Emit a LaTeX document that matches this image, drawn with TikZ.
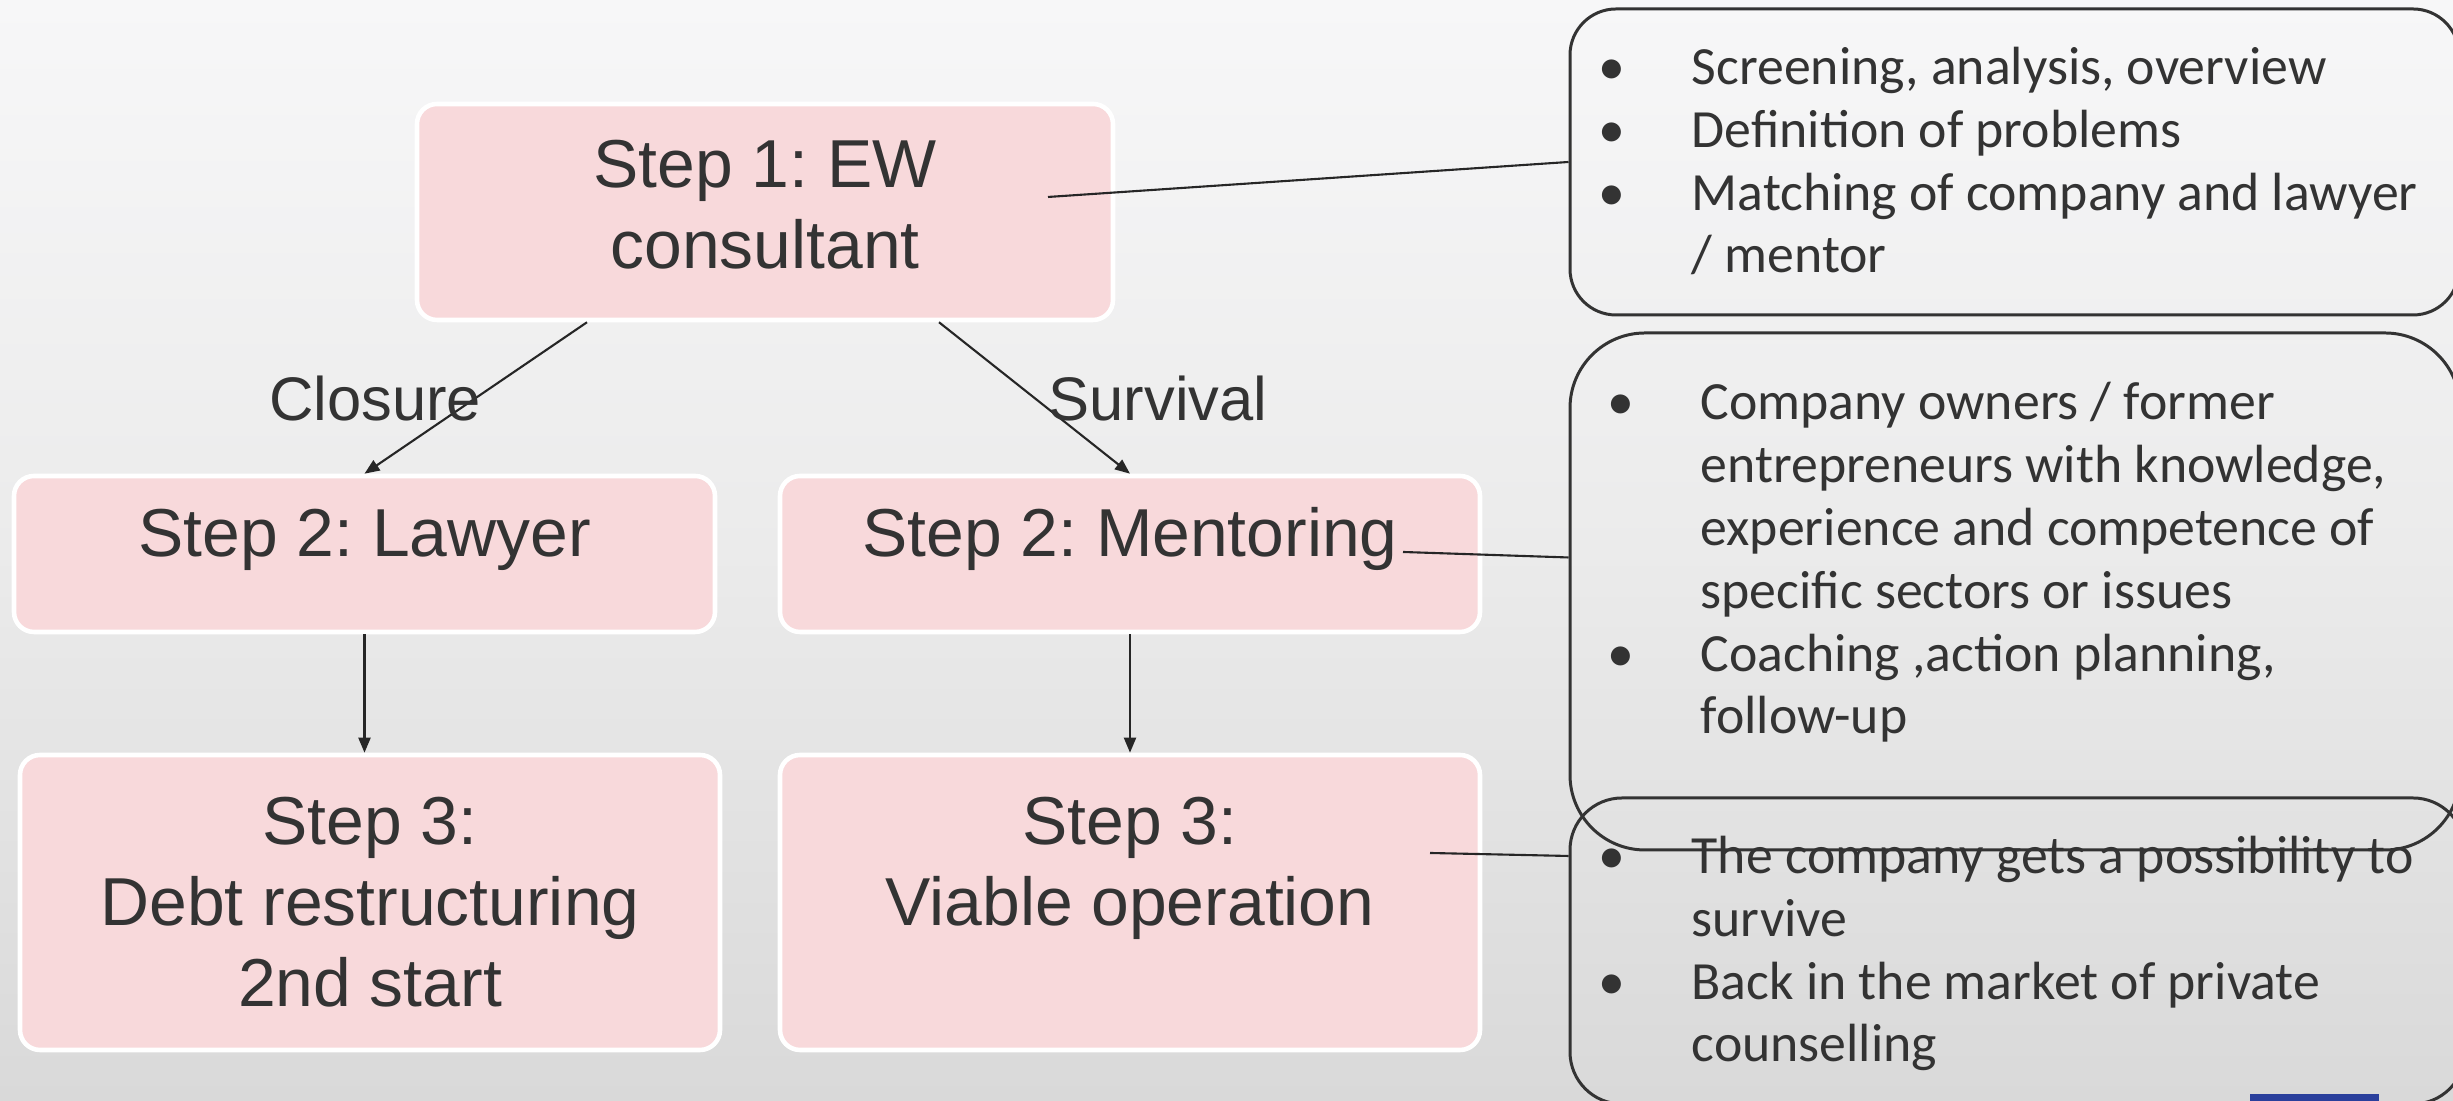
\documentclass[tikz,border=0pt]{standalone}
\usepackage{fontspec}
\usepackage{tikz}
\usetikzlibrary{arrows.meta}
\setmainfont{Liberation Sans}
\newfontfamily\bodyfont{Carlito}
\frenchspacing

\definecolor{boxpink}{HTML}{F8D9DB}
\definecolor{inkgray}{HTML}{333333}
\definecolor{bgtop}{HTML}{F7F7F8}
\definecolor{bgmid}{HTML}{EBEBEB}
\definecolor{bgbot}{HTML}{D9D9D9}
\definecolor{logoblue}{HTML}{2A3F9C}

\newcommand{\bul}{\llap{•\hspace{0.66cm}}}

\begin{document}
\begin{tikzpicture}[
  stepbox/.style={draw=white, line width=1.3pt, fill=boxpink, rounded corners=0.2cm,
    text=inkgray, align=center, inner sep=0pt, font=\fontsize{19.3}{23}\selectfont},
  midline/.style={text height=0.5cm, text depth=0.44cm},
  infobox/.style={draw=inkgray, line width=0.85pt},
  infotext/.style={anchor=base west, align=left, inner sep=0pt, text=inkgray,
    font=\bodyfont\fontsize{15.3}{17.9}\selectfont},
  branch/.style={text=inkgray, font=\fontsize{17.5}{21}\selectfont},
  arr/.style={-{Triangle[length=1.5mm,width=1.2mm]}, line width=0.6pt, draw=black!85},
  link/.style={line width=0.6pt, draw=black!85}
]
  %背景
  \useasboundingbox (0,0) rectangle (24.53,11.01);
  \clip (0,0) rectangle (24.53,11.01);
  \shade[top color=bgtop, bottom color=bgbot, middle color=bgmid] (0,0) rectangle (24.53,11.01);

  %ステップ
  \node[stepbox, text depth=0.16cm, minimum width=6.96cm, minimum height=2.16cm] (s1) at (7.65,8.89) {Step 1: EW\\consultant};
  \node[stepbox, midline, minimum width=7.01cm, minimum height=1.56cm] (s2a) at (3.645,5.47) {Step 2: Lawyer};
  \node[stepbox, midline, minimum width=7.00cm, minimum height=1.56cm] (s2b) at (11.30,5.47) {Step 2: Mentoring};
  \node[stepbox, minimum width=7.00cm, minimum height=2.95cm] (s3a) at (3.70,1.985) {Step 3:\\Debt restructuring\\2nd start};
  \node[stepbox, minimum width=7.00cm, minimum height=2.95cm] (s3b) at (11.30,1.985) {Step 3:\\Viable operation\\\phantom{2nd start}};

  %右の枠
  \node[infobox, rounded corners=0.46cm, minimum width=8.89cm, minimum height=3.06cm] (r1) at (20.145,9.39) {};
  \node[infobox, rounded corners=0.75cm, minimum width=8.90cm, minimum height=5.17cm] (r2) at (20.15,5.095) {};
  \node[infobox, rounded corners=0.52cm, minimum width=8.95cm, minimum height=3.06cm] (r3) at (20.175,1.50) {};

  %説明 (最後の行のベースライン)
  \node[infotext] (i1) at (16.91,8.28) {\bul Screening, analysis, overview\\\bul Definition of problems\\\bul Matching of company and lawyer\\/ mentor};
  \node[infotext] (i2) at (17.00,3.67) {\bul Company owners / former\\entrepreneurs with knowledge,\\experience and competence of\\specific sectors or issues\\\bul Coaching ,action planning,\\follow-up};
  \node[infotext] (i3) at (16.91,0.39) {\bul The company gets a possibility to\\survive\\\bul Back in the market of private\\counselling};

  %線
  \coordinate (c1) at (10.48,9.04);
  \coordinate (c2) at (14.03,5.49);
  \coordinate (c3) at (14.30,2.48);
  \draw[link] (c1) -- (r1.west);
  \draw[link] (c2) -- ([yshift=0.34cm]r2.west);
  \draw[link] (c3) -- ([yshift=0.95cm]r3.west);

  %矢印
  \draw[arr] ([xshift=-1.78cm]s1.south) -- (s2a.north);
  \draw[arr] ([xshift=1.74cm]s1.south) -- (s2b.north);
  \draw[arr] (s2a.south) -- (s2a.south |- s3a.north);
  \draw[arr] (s2b.south) -- (s3b.north);

  %分岐
  \node[branch] (lclose) at (3.75,7.02) {Closure};
  \node[branch] (lsurv) at (11.58,7.02) {Survival};

  %ロゴ
  \fill[logoblue] (22.50,0) rectangle (23.79,0.07);
\end{tikzpicture}
\end{document}
